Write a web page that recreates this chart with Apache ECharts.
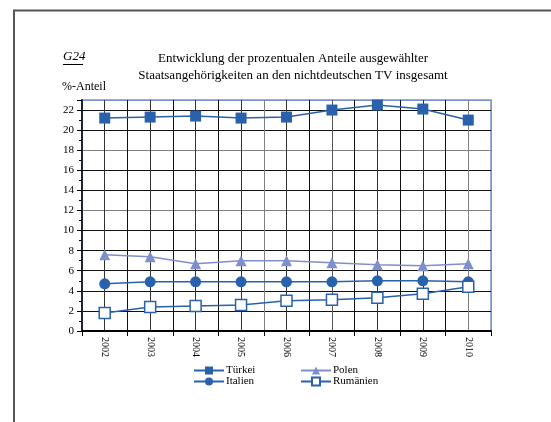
<!DOCTYPE html>
<html>
<head>
<meta charset="utf-8">
<script src="https://cdn.jsdelivr.net/npm/echarts@6/dist/echarts.min.js"></script>
<style>
  html, body { margin: 0; padding: 0; background: #fff; }
  #chart { width: 551px; height: 422px; }
</style>
</head>
<body>
<div id="chart"></div>
<script>
const years = ['2002', '2003', '2004', '2005', '2006', '2007', '2008', '2009', '2010'];
const tuerkei = [21.2, 21.3, 21.4, 21.2, 21.3, 22.0, 22.5, 22.1, 21.0];
const polen = [7.6, 7.4, 6.7, 7.0, 7.0, 6.8, 6.6, 6.5, 6.7];
const italien = [4.7, 4.9, 4.9, 4.9, 4.9, 4.9, 5.0, 5.0, 4.9];
const rumaenien = [1.8, 2.4, 2.5, 2.6, 3.0, 3.1, 3.3, 3.7, 4.4];

const SERIF = 'Liberation Serif';
const BLUE = '#2961ad';
const BORDER = '#7d92cf';

// horizontal grid: light grey at 12 and 18, blue at the top (23)
const hLines = ['#111', '#111', '#111', '#111', '#111', '#111', '#808080', '#111', '#111', '#808080', '#111', '#111', BORDER];
// vertical grid every half category
const vLines = ['#111', '#333', '#111', '#333', '#111', '#333', '#111', '#333', '#808080', '#333', '#111', '#555', '#111', '#333', '#111', '#333', '#111', '#808080', BORDER];

const chart = echarts.init(document.getElementById('chart'));

const line = (name, data, symbol, color, extra) => Object.assign({
  name, type: 'line', data, symbol, symbolSize: 11,
  xAxisIndex: 0, yAxisIndex: 0,
  lineStyle: { color, width: 1.5 },
  itemStyle: { color },
  animation: false
}, extra || {});

chart.setOption({
  animation: false,
  grid: { left: 82, right: 60, top: 100, bottom: 91, show: true, borderColor: BORDER, borderWidth: 1.5, backgroundColor: 'transparent' },
  graphic: [
    { type: 'polyline', shape: { points: [[14, 422], [14, 10.5], [551, 10.5]] }, style: { stroke: '#555', lineWidth: 2, fill: null } },
    { type: 'text', x: 63, y: 50, style: { text: 'G24', font: 'italic 13px ' + SERIF, fill: '#000' } },
    { type: 'line', shape: { x1: 63, y1: 64.5, x2: 83, y2: 64.5 }, style: { stroke: '#000', lineWidth: 1 } },
    { type: 'text', x: 293, y: 50, style: {
        text: 'Entwicklung der prozentualen Anteile ausgewählter\nStaatsangehörigkeiten an den nichtdeutschen TV insgesamt',
        textAlign: 'center', font: '13px ' + SERIF, lineHeight: 17, fill: '#000' } },
    { type: 'text', x: 62, y: 81, style: { text: '%-Anteil', font: '12px ' + SERIF, fill: '#000' } }
  ],
  legend: [
    { left: 193, top: 365, orient: 'vertical', itemWidth: 30, itemHeight: 10, itemGap: 0, padding: 0,
      data: ['Türkei', 'Italien'], textStyle: { fontFamily: SERIF, fontSize: 11, color: '#000', padding: [0, 0, 0, -3] } },
    { left: 300, top: 365, orient: 'vertical', itemWidth: 30, itemHeight: 10, itemGap: 0, padding: 0,
      data: ['Polen', 'Rumänien'], textStyle: { fontFamily: SERIF, fontSize: 11, color: '#000', padding: [0, 0, 0, -3] } }
  ],
  xAxis: [
    {
      type: 'category', data: years, boundaryGap: true,
      axisLine: { lineStyle: { color: '#000', width: 2 } },
      axisTick: { show: true, length: 5, lineStyle: { color: '#000' } },
      axisLabel: { rotate: -90, fontFamily: SERIF, fontSize: 10, color: '#000', margin: 6 },
      splitLine: { show: false }
    },
    {
      type: 'value', min: 0, max: 18, interval: 1, position: 'bottom',
      axisLine: { show: false }, axisTick: { show: false }, axisLabel: { show: false },
      splitLine: { show: true, lineStyle: { color: vLines, width: 1 } }
    }
  ],
  yAxis: {
    type: 'value', min: 0, max: 23, interval: 2,
    axisLine: { show: true, lineStyle: { color: '#1c2438', width: 2 } },
    axisTick: { show: true, length: 5, lineStyle: { color: '#000' } },
    minorTick: { show: true, splitNumber: 2, length: 3, lineStyle: { color: '#000' } },
    axisLabel: { fontFamily: SERIF, fontSize: 11, color: '#000', margin: 8, showMaxLabel: false },
    splitLine: { show: true, lineStyle: { color: hLines, width: 1 } }
  },
  series: [
    line('Türkei', tuerkei, 'rect', BLUE),
    line('Polen', polen, 'triangle', '#7f8fca'),
    line('Italien', italien, 'circle', BLUE),
    line('Rumänien', rumaenien, 'rect', BLUE, {
      itemStyle: { color: '#fff', borderColor: BLUE, borderWidth: 1.5 }
    })
  ]
});
</script>
</body>
</html>
